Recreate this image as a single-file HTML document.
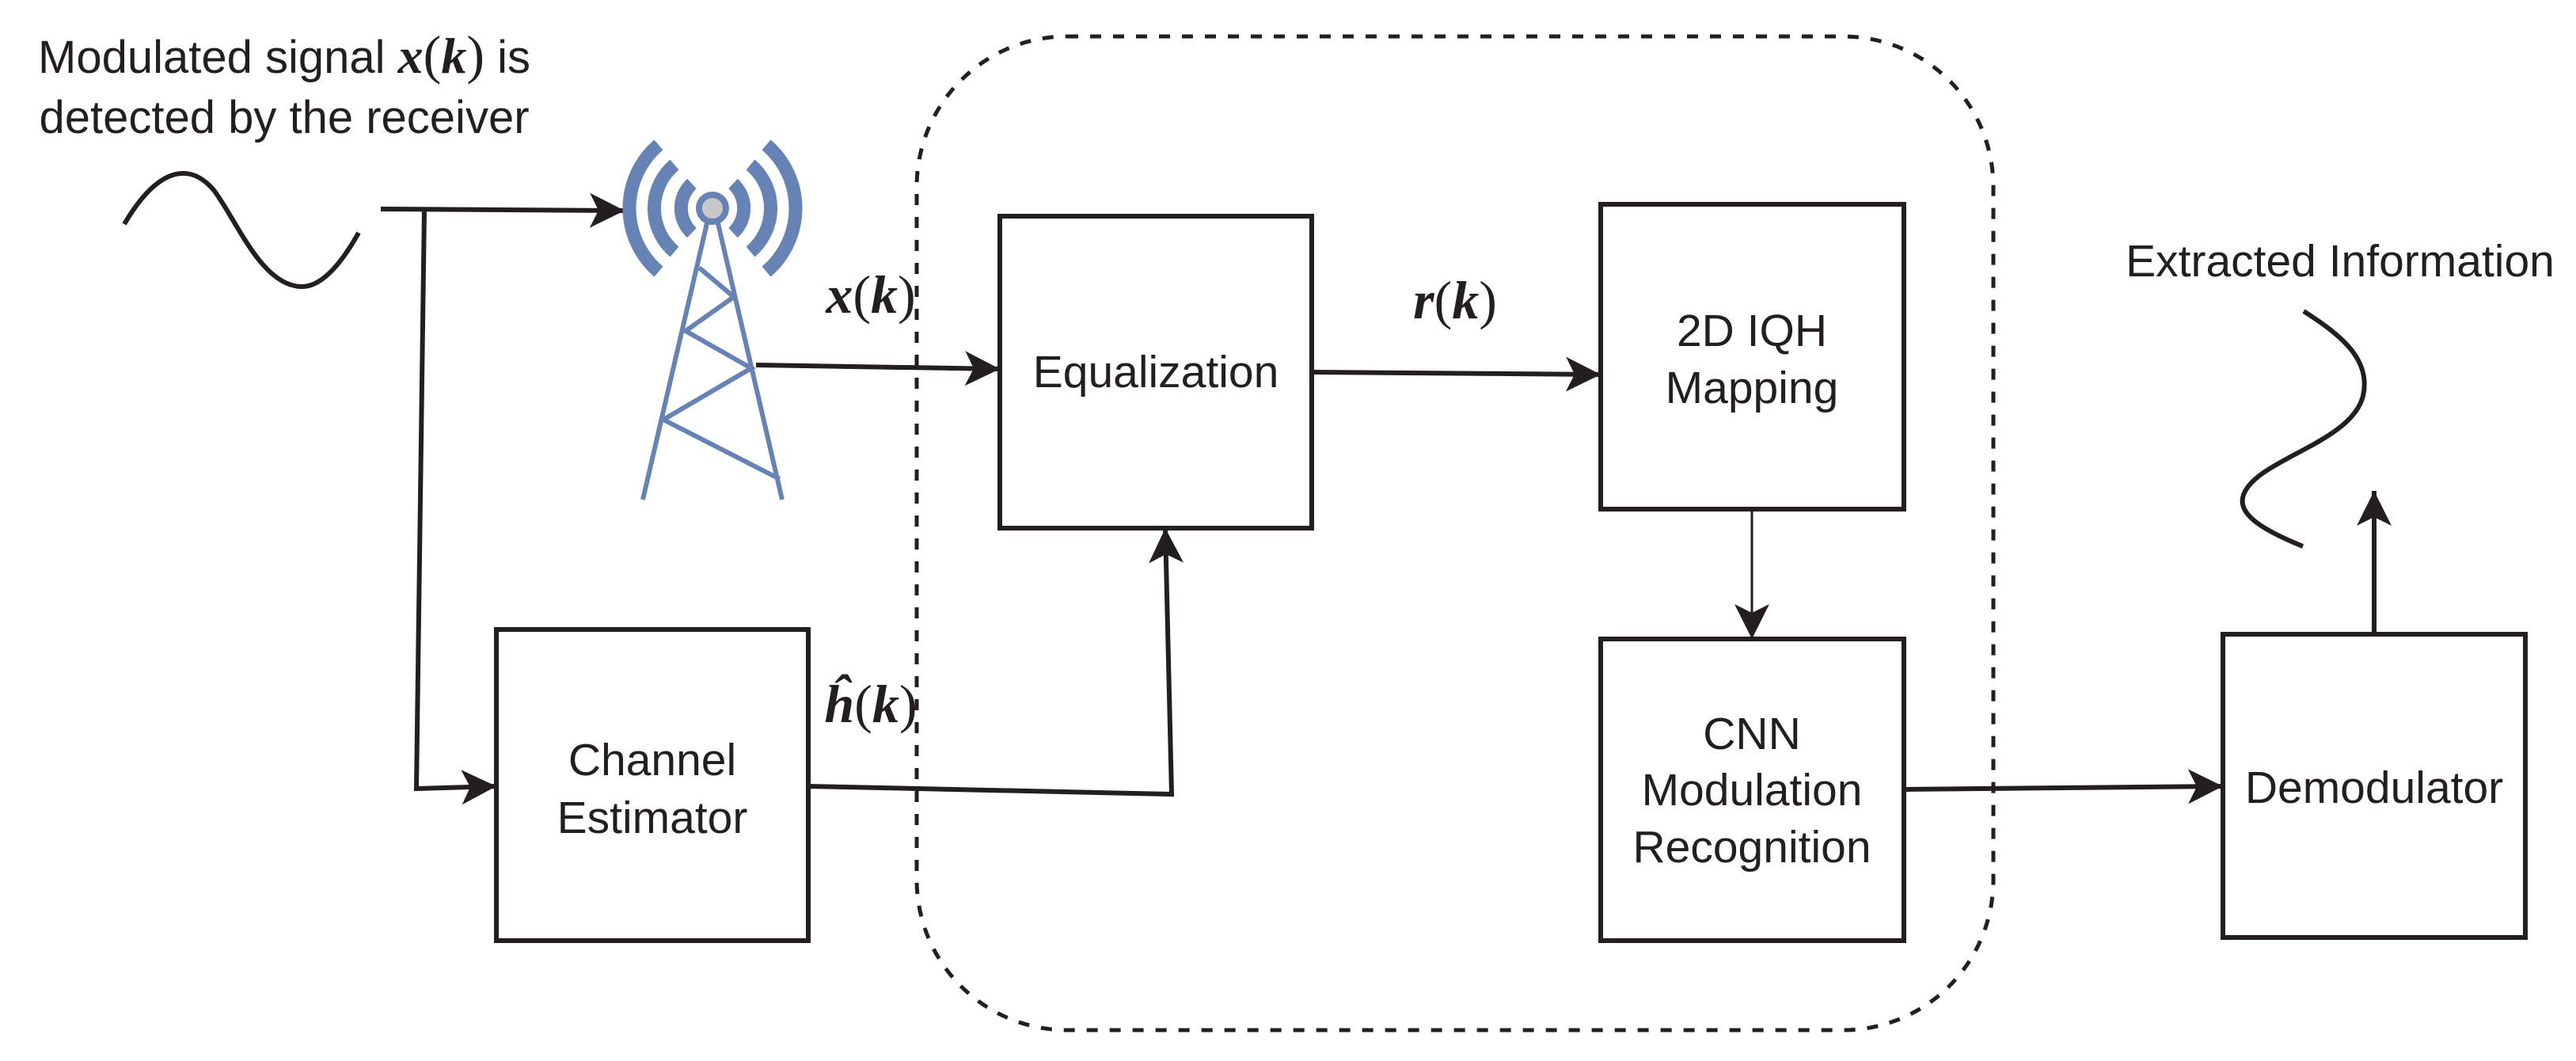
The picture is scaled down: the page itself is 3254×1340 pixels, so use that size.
<!DOCTYPE html>
<html><head><meta charset="utf-8"><style>
html,body{margin:0;padding:0;background:#fff}
svg{display:block}
text{font-family:"Liberation Sans",sans-serif;fill:#231f20}
.m{font-family:"Liberation Serif",serif;font-style:italic;font-weight:bold}
</style></head><body>
<svg width="3254" height="1340" viewBox="0 0 3254 1340" xmlns="http://www.w3.org/2000/svg">
<defs>
<marker id="a" markerUnits="userSpaceOnUse" markerWidth="50" markerHeight="50" refX="44" refY="22" orient="auto">
<path d="M0,0 L44,22 L0,44 L11,22 Z" fill="#231f20"/>
</marker>
</defs>
<g stroke="#231f20" stroke-width="6" fill="none">
<rect x="1158" y="46" width="1360" height="1255" rx="190" ry="190" stroke-width="5" stroke-dasharray="14 15"/>
<rect x="627" y="795" width="394" height="393"/>
<rect x="1263" y="273" width="394" height="394"/>
<rect x="2022" y="258" width="383" height="385"/>
<rect x="2022" y="807" width="383" height="381"/>
<rect x="2808" y="801" width="382" height="383"/>
<path d="M157,283 C200,210 240,205 270,240 C300,280 330,360 380,362 C405,363 430,335 453,294"/>
<path d="M481,264 L789,266" marker-end="url(#a)"/>
<path d="M536,264 L526,996 L627,993" marker-end="url(#a)"/>
<path d="M955,461 L1263,466" marker-end="url(#a)"/>
<path d="M1657,470 L2022,473" marker-end="url(#a)"/>
<path d="M1021,993 L1480,1003 L1472,667" marker-end="url(#a)"/>
<path d="M2213,643 L2213,807" stroke-width="3" marker-end="url(#a)"/>
<path d="M2405,997 L2808,993" marker-end="url(#a)"/>
<path d="M2999,801 L2999,620" marker-end="url(#a)"/>
<path d="M2910,393 C2960,425 2995,455 2985,500 C2970,560 2850,580 2834,625 C2825,650 2860,670 2909,690"/>
</g>
<g stroke="#6783b6" fill="none">
<g stroke-width="17">
<path d="M874,232 A42,42 0 0 0 874,294"/>
<path d="M926,232 A42,42 0 0 1 926,294"/>
<path d="M852,208 A72,72 0 0 0 852,318"/>
<path d="M948,208 A72,72 0 0 1 948,318"/>
<path d="M832,183 A105,105 0 0 0 832,343"/>
<path d="M968,183 A105,105 0 0 1 968,343"/>
</g>
<g stroke-width="6">
<path d="M893,282 L812,631 M907,282 L988,631"/>
<path d="M883,338 L927,375 L866,418 L949,465 L838,530 L985,605"/>
</g>
<circle cx="900" cy="263" r="17" fill="#c8c8c8" stroke-width="8"/>
</g>
<text x="359" y="92" font-size="58" text-anchor="middle">Modulated signal <tspan class="m" font-size="64">x</tspan><tspan font-family="Liberation Serif" font-size="68">(</tspan><tspan class="m" font-size="64">k</tspan><tspan font-family="Liberation Serif" font-size="68">)</tspan> is</text>
<text x="359" y="168" font-size="58" text-anchor="middle">detected by the receiver</text>
<text x="1100" y="395" font-size="68" text-anchor="middle"><tspan class="m">x</tspan><tspan font-family="Liberation Serif">(</tspan><tspan class="m">k</tspan><tspan font-family="Liberation Serif">)</tspan></text>
<text x="1838" y="402" font-size="68" text-anchor="middle"><tspan class="m">r</tspan><tspan font-family="Liberation Serif">(</tspan><tspan class="m">k</tspan><tspan font-family="Liberation Serif">)</tspan></text>
<text x="1100" y="912" font-size="68" text-anchor="middle"><tspan class="m">ĥ</tspan><tspan font-family="Liberation Serif">(</tspan><tspan class="m">k</tspan><tspan font-family="Liberation Serif">)</tspan></text>
<text x="824" y="979" font-size="57" text-anchor="middle">Channel</text>
<text x="824" y="1052" font-size="57" text-anchor="middle">Estimator</text>
<text x="1460" y="489" font-size="57" text-anchor="middle">Equalization</text>
<text x="2213" y="437" font-size="57" text-anchor="middle">2D IQH</text>
<text x="2213" y="509" font-size="57" text-anchor="middle">Mapping</text>
<text x="2213" y="946" font-size="57" text-anchor="middle">CNN</text>
<text x="2213" y="1017" font-size="57" text-anchor="middle">Modulation</text>
<text x="2213" y="1089" font-size="57" text-anchor="middle">Recognition</text>
<text x="2999" y="1014" font-size="57" text-anchor="middle">Demodulator</text>
<text x="2956" y="349" font-size="57" text-anchor="middle">Extracted Information</text>
</svg>
</body></html>
